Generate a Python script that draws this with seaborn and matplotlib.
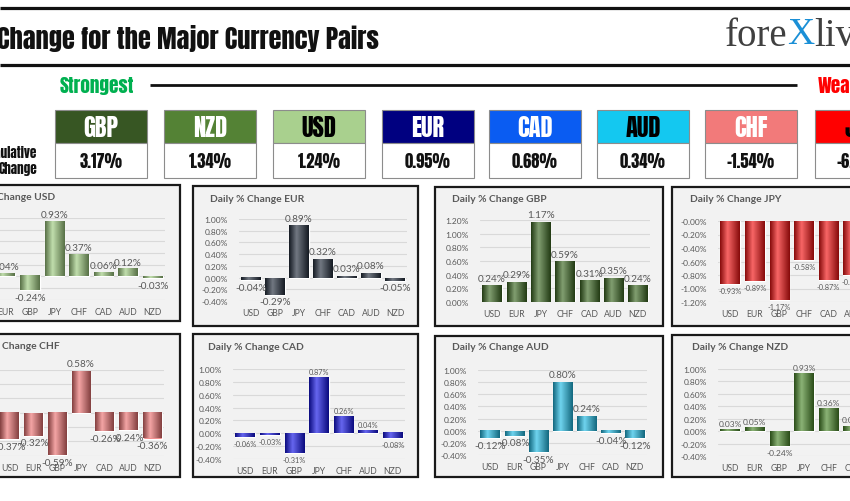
import numpy as np
import matplotlib
matplotlib.use("Agg")
import matplotlib.pyplot as plt
import seaborn as sns
from matplotlib.patches import Rectangle
from matplotlib.colors import LinearSegmentedColormap, to_rgb
from matplotlib import font_manager as fm

# ---------------- data ----------------
strength_currencies = ["GBP", "NZD", "USD", "EUR", "CAD", "AUD", "CHF", "JPY"]
strength_values = [3.17, 1.34, 1.24, 0.95, 0.68, 0.34, -1.54, -6.17]

usd_cats = ["EUR", "GBP", "JPY", "CHF", "CAD", "AUD", "NZD"]
usd_vals = [0.04, -0.24, 0.93, 0.37, 0.06, 0.12, -0.03]
eur_cats = ["USD", "GBP", "JPY", "CHF", "CAD", "AUD", "NZD"]
eur_vals = [-0.04, -0.29, 0.89, 0.32, 0.03, 0.08, -0.05]
gbp_cats = ["USD", "EUR", "JPY", "CHF", "CAD", "AUD", "NZD"]
gbp_vals = [0.24, 0.29, 1.17, 0.59, 0.31, 0.35, 0.24]
jpy_cats = ["USD", "EUR", "GBP", "CHF", "CAD", "AUD", "NZD"]
jpy_vals = [-0.93, -0.89, -1.17, -0.58, -0.87, -0.80, -0.93]
chf_cats = ["USD", "EUR", "GBP", "JPY", "CAD", "AUD", "NZD"]
chf_vals = [-0.37, -0.32, -0.59, 0.58, -0.26, -0.24, -0.36]
cad_cats = ["USD", "EUR", "GBP", "JPY", "CHF", "AUD", "NZD"]
cad_vals = [-0.06, -0.03, -0.31, 0.87, 0.26, 0.04, -0.08]
aud_cats = ["USD", "EUR", "GBP", "JPY", "CHF", "CAD", "NZD"]
aud_vals = [-0.12, -0.08, -0.35, 0.80, 0.24, -0.04, -0.12]
nzd_cats = ["USD", "EUR", "GBP", "JPY", "CHF", "CAD", "AUD"]
nzd_vals = [0.03, 0.05, -0.24, 0.93, 0.36, 0.08, 0.12]

# ---------------- fonts ----------------
W, H = 850, 502
fonts = fm.fontManager.ttflist
avail = {f.name for f in fonts}
impact_like = ["Anton", "Oswald", "League Gothic", "Fjalla One", "Francois One",
               "Roboto Condensed", "Asap Condensed", "Archivo Narrow",
               "Liberation Sans Narrow"]
found = [n for n in impact_like if n in avail]
COND = found[0] if found else "Roboto"
HW = "normal" if COND == "Anton" else "bold"
SANS = "Lato" if "Lato" in avail else "DejaVu Sans"
SERIF = "Liberation Serif" if "Liberation Serif" in avail else "DejaVu Serif"
GREY = "#595959"

header_colors = {"GBP": "#375623", "NZD": "#548235", "USD": "#a9d08e", "EUR": "#000080",
                 "CAD": "#0a5cf2", "AUD": "#14c8f0", "CHF": "#f27a7a", "JPY": "#ff0000"}
header_text = {"GBP": "white", "NZD": "white", "USD": "black", "EUR": "white",
               "CAD": "white", "AUD": "black", "CHF": "white", "JPY": "black"}

sns.set_theme(style="white")
plt.rcParams["font.family"] = [SANS, "DejaVu Sans"]

fig = plt.figure(figsize=(8.5, 5.02), dpi=100)
bg = fig.add_axes([0, 0, 1, 1])
bg.set_xlim(0, W)
bg.set_ylim(H, 0)
bg.axis("off")
renderer = fig.canvas.get_renderer()


def fit_size(text, target_px, family=COND, base=20):
    t = bg.text(0, 0, text, family=family, fontweight=HW, fontsize=base)
    w = t.get_window_extent(renderer).width
    t.remove()
    return base * target_px / w


title_fs = fit_size("Change for the Major Currency Pairs", 383)
strong_fs = fit_size("Strongest", 75)
side_fs = fit_size("ulative", 36)
head_fs = fit_size("GBP", 35)
val_fs = fit_size("3.17%", 43)

# header lines and title
bg.plot([0, W], [9, 9], color="#111111", lw=2.3, solid_capstyle="butt")
bg.plot([0, W], [66, 66], color="#111111", lw=2.3, solid_capstyle="butt")
bg.text(-3, 38, "Change for the Major Currency Pairs", family=COND, fontweight=HW,
        fontsize=title_fs, va="center", ha="left", color="#111111")
bg.text(787, 36, "fore", family=SERIF, fontsize=28, color="#404040", ha="right", va="center")
bg.text(787, 35, "X", family=SERIF, fontsize=27, color="#1a8fd6", ha="left", va="center")
bg.text(814, 36, "live", family=SERIF, fontsize=28, color="#404040", ha="left", va="center")

bg.text(60, 86, "Strongest", family=COND, fontweight=HW, fontsize=strong_fs,
        color="#00b050", ha="left", va="center")
bg.plot([150, 797], [86, 86], color="#111111", lw=2.0, solid_capstyle="butt")
bg.text(818, 86, "Weakest", family=COND, fontweight=HW, fontsize=strong_fs,
        color="#ff0000", ha="left", va="center")

bg.text(37, 153, "Cumulative", family=COND, fontweight=HW, fontsize=side_fs,
        color="#111111", ha="right", va="center")
bg.text(37, 169, "Change", family=COND, fontweight=HW, fontsize=side_fs,
        color="#111111", ha="right", va="center")

box_left = [55, 164, 273, 382, 489, 597, 705, 815]
for xl, cur, val in zip(box_left, strength_currencies, strength_values):
    bg.add_patch(Rectangle((xl, 111), 92, 33, facecolor=header_colors[cur],
                           edgecolor="#8c8c8c", lw=0.8))
    bg.add_patch(Rectangle((xl, 144), 92, 35, facecolor="white",
                           edgecolor="#8c8c8c", lw=0.8))
    bg.text(xl + 46, 128, cur, family=COND, fontweight=HW, fontsize=head_fs,
            color=header_text[cur], ha="center", va="center")
    bg.text(xl + 46, 162, f"{val:.2f}%", family=COND, fontweight=HW, fontsize=val_fs,
            color="#111111", ha="center", va="center")


def cyl_cmap(base):
    r, g, b = to_rgb(base)
    dark = tuple(c * 0.55 for c in (r, g, b))
    light = tuple(min(1, c + (1 - c) * 0.35) for c in (r, g, b))
    return LinearSegmentedColormap.from_list("cyl", [(0, dark), (0.38, light), (1, dark)])


panels = [
    dict(cats=usd_cats, vals=usd_vals, color="#9fcc80", box=(-45, 186, 180, 322),
         ax=(-7, 219, 165, 300.7), ylim=(-0.4, 1.0), title="Daily % Change USD",
         tpos=(55, 198, "right"), lfs=7.2),
    dict(cats=eur_cats, vals=eur_vals, color="#26303f", box=(193, 187, 418, 327),
         ax=(239, 220, 407, 302), ylim=(-0.4, 1.0), title="Daily % Change EUR",
         tpos=(210, 200, "left"), lfs=7.2),
    dict(cats=gbp_cats, vals=gbp_vals, color="#3e6a24", box=(435, 188, 663, 327),
         ax=(480, 221, 650, 303), ylim=(0.0, 1.2), title="Daily % Change GBP",
         tpos=(452, 200, "left"), lfs=7.2),
    dict(cats=jpy_cats, vals=jpy_vals, color="#f41414", box=(672, 188, 905, 327),
         ax=(718, 222, 890, 303), ylim=(-1.2, 0.0), title="Daily % Change JPY",
         tpos=(690, 200, "left"), lfs=5.3),
    dict(cats=chf_cats, vals=chf_vals, color="#ee7474", box=(-45, 335, 180, 478),
         ax=(-2, 370.7, 164, 456.7), ylim=(-0.6, 0.6), title="Daily % Change CHF",
         tpos=(60, 347, "right"), lfs=7.2),
    dict(cats=cad_cats, vals=cad_vals, color="#1414e6", box=(193, 335, 418, 478),
         ax=(233, 370, 405, 460), ylim=(-0.4, 1.0), title="Daily % Change CAD",
         tpos=(208, 348, "left"), lfs=5.3),
    dict(cats=aud_cats, vals=aud_vals, color="#22bde6", box=(435, 337, 663, 478),
         ax=(478, 371, 647, 456), ylim=(-0.4, 1.0), title="Daily % Change AUD",
         tpos=(452, 348, "left"), lfs=7.2),
    dict(cats=nzd_cats, vals=nzd_vals, color="#4c8a2c", box=(672, 336, 905, 478),
         ax=(718, 370, 890, 457), ylim=(-0.4, 1.0), title="Daily % Change NZD",
         tpos=(692, 348, "left"), lfs=6.0),
]

for p in panels:
    x0, y0, x1, y1 = p["box"]
    bg.add_patch(Rectangle((x0, y0), x1 - x0, y1 - y0, facecolor="#f2f2f2",
                           edgecolor="#1a1a1a", lw=1.6))
    tx, ty, ha = p["tpos"]
    bg.text(tx, ty, p["title"], fontweight="bold", fontsize=7.4, color=GREY,
            ha=ha, va="center")

    ax0, ay0, ax1, ay1 = p["ax"]
    ax = fig.add_axes([ax0 / W, 1 - ay1 / H, (ax1 - ax0) / W, (ay1 - ay0) / H])
    ax.set_facecolor("none")
    sns.barplot(x=p["cats"], y=p["vals"], color=p["color"], width=0.8,
                errorbar=None, ax=ax, saturation=1)
    lo, hi = p["ylim"]
    ax.set_ylim(lo, hi)
    ax.set_xlim(-0.5, len(p["cats"]) - 0.5)
    ax.bar_label(ax.containers[0], labels=[f"{v:.2f}%" for v in p["vals"]],
                 padding=2, fontsize=p["lfs"], color=GREY, zorder=6)
    cmap = cyl_cmap(p["color"])
    grad = np.linspace(0, 1, 64).reshape(1, -1)
    for patch in ax.patches:
        bx, by = patch.get_x(), patch.get_y()
        bw, bh = patch.get_width(), patch.get_height()
        ax.imshow(grad, extent=[bx, bx + bw, by, by + bh], aspect="auto",
                  cmap=cmap, zorder=patch.get_zorder() + 0.1, interpolation="bilinear")
    ticks = np.round(np.arange(lo, hi + 1e-9, 0.2), 2)
    ax.set_yticks(ticks)
    ax.set_yticklabels([f"{t:.2f}%" for t in ticks])
    ax.set_ylim(lo, hi)
    ax.set_xlim(-0.5, len(p["cats"]) - 0.5)
    ax.yaxis.grid(True, color="#d9d9d9", lw=0.8)
    ax.set_axisbelow(True)
    for s in ax.spines.values():
        s.set_visible(False)
    ax.tick_params(axis="y", length=0, pad=8, labelsize=6.0, labelcolor=GREY)
    ax.tick_params(axis="x", length=0, pad=5, labelsize=6.2, labelcolor=GREY)
    ax.set_xlabel("")
    ax.set_ylabel("")
    for t in ax.texts:
        t.set_clip_on(False)

fig.savefig("out.png", dpi=100)
